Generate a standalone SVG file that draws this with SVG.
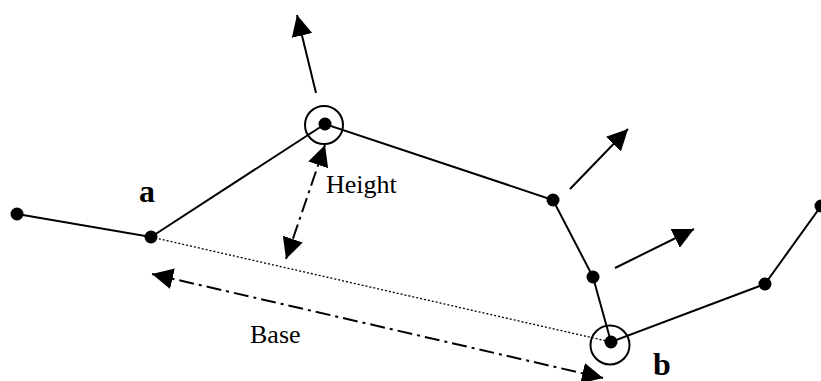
<svg xmlns="http://www.w3.org/2000/svg" width="821" height="381" viewBox="0 0 821 381">
<style>
.seg{stroke:#000;stroke-width:2;fill:none}
.dot{fill:#000}
.ring{stroke:#000;stroke-width:2;fill:none}
.arr{stroke:#000;stroke-width:2;fill:none}
.dd{stroke:#000;stroke-width:2;fill:none;stroke-dasharray:15 5 3 5}
.dotted{stroke:#000;stroke-width:1.3;fill:none;stroke-dasharray:2 2}
.lbl{font-family:"Liberation Serif","Times New Roman",serif;font-size:26px;fill:#000}
.big{font-family:"Liberation Serif","Times New Roman",serif;font-size:32px;font-weight:bold;fill:#000}
</style>
<defs>
<marker id="ah" markerUnits="userSpaceOnUse" viewBox="0 0 21 21" markerWidth="21" markerHeight="21" refX="21" refY="10.5" orient="auto-start-reverse">
<path d="M0,0 L21,10.5 L0,21 Z" fill="#000"/>
</marker>
</defs>
<g id="connectors">
<polyline class="seg" points="17,214 151,237 325,124 553,200 593,277 611,342 765,284 821,206"/>
<line class="dotted" x1="151" y1="237" x2="611" y2="342"/>
<line class="arr" x1="316" y1="93" x2="297" y2="15" marker-end="url(#ah)"/>
<line class="arr" x1="570" y1="189" x2="628" y2="129" marker-end="url(#ah)"/>
<line class="arr" x1="615" y1="268" x2="694" y2="229" marker-end="url(#ah)"/>
<line class="dd" x1="325" y1="145" x2="286" y2="259" marker-start="url(#ah)" marker-end="url(#ah)"/>
<line class="dd" x1="152" y1="274" x2="603" y2="378" marker-start="url(#ah)" marker-end="url(#ah)"/>
</g>
<g id="n0"><circle class="dot" cx="17" cy="214" r="6.5"/></g>
<g id="na"><circle class="dot" cx="151" cy="237" r="6.5"/><text class="big" x="139" y="202">a</text></g>
<g id="ntop"><circle class="dot" cx="325" cy="124" r="6.5"/><circle class="ring" cx="324" cy="125" r="19"/></g>
<g id="n3"><circle class="dot" cx="553" cy="200" r="6.5"/></g>
<g id="n4"><circle class="dot" cx="593" cy="277" r="6.5"/></g>
<g id="nb"><circle class="dot" cx="611" cy="342" r="6.5"/><circle class="ring" cx="610" cy="345" r="19.5"/><text class="big" x="653" y="375">b</text></g>
<g id="n6"><circle class="dot" cx="765" cy="284" r="6.5"/></g>
<g id="n7"><circle class="dot" cx="821" cy="206" r="6.5"/></g>
<g id="labels">
<text class="lbl" x="326" y="193">Height</text>
<text class="lbl" x="250" y="343">Base</text>
</g>
</svg>
